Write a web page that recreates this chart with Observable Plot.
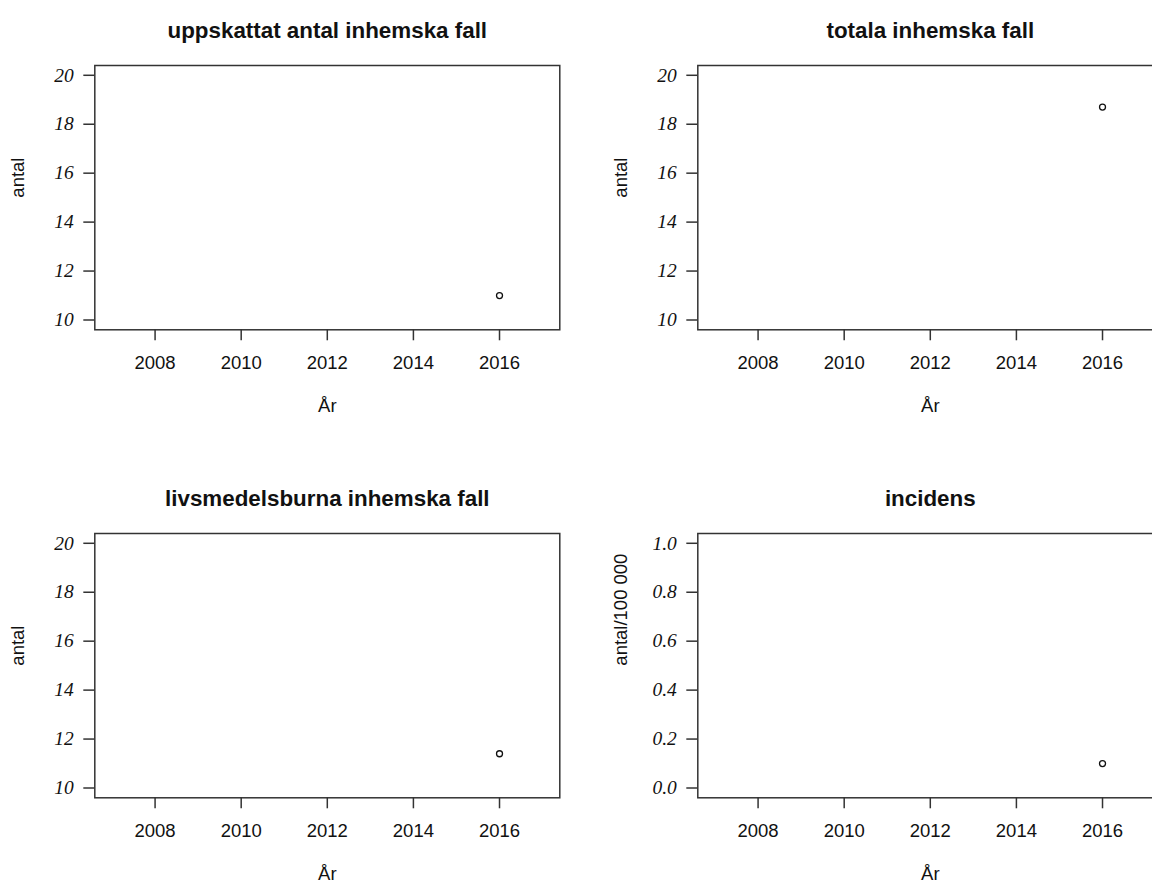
<!DOCTYPE html>
<html>
<head>
<meta charset="utf-8">
<script src="https://cdn.jsdelivr.net/npm/d3@7"></script>
<script src="https://cdn.jsdelivr.net/npm/@observablehq/plot@0.6"></script>
<style>
  html, body { margin: 0; padding: 0; background: white; overflow: hidden; }
  #page { position: relative; width: 1152px; height: 885px; overflow: hidden; background: white; }
  .panel { position: absolute; }
  .panel svg { max-width: none !important; display: block; }
  .panel g[aria-label="y-axis tick label"] { font-style: italic; }
</style>
</head>
<body>
<div id="page"></div>
<script>
// ---- data ----
const years = [2016];
const uppskattat = [11];
const totala = [18.7];
const livsmedelsburna = [11.4];
const incidens = [0.1];

const xTicks = [2008, 2010, 2012, 2014, 2016];
const countTicks = [10, 12, 14, 16, 18, 20];
const incidensTicks = [0.0, 0.2, 0.4, 0.6, 0.8, 1.0];

const titles = ["uppskattat antal inhemska fall", "totala inhemska fall", "livsmedelsburna inhemska fall", "incidens"];
const yLabels = ["antal", "antal", "antal", "antal/100 000"];
const xLabel = "År";

// ---- drawing ----
const sans = "'Liberation Sans', Arial, Helvetica, sans-serif";
const serif = "'Liberation Serif', 'Times New Roman', serif";
const ink = "#111";
const boxColor = "#333";

function panel({title, ylabel, values, yDomain, yTicks, yFormat, marginLeft, height, marginBottom}) {
  const data = years.map((yr, i) => ({year: yr, value: values[i]}));
  const frameW = 465;
  const marginRight = 20;
  return Plot.plot({
    width: marginLeft + frameW + marginRight,
    height,
    marginLeft,
    marginRight,
    marginTop: 65,
    marginBottom,
    style: {background: "white", overflow: "visible"},
    x: {domain: [2006.6, 2017.4], label: null},
    y: {domain: yDomain, label: null},
    marks: [
      Plot.axisX({ticks: xTicks, tickSize: 11, tickPadding: 15, tickFormat: "d",
        fontSize: 18.5, fontFamily: sans, stroke: boxColor, strokeWidth: 1.5, fill: ink, label: null}),
      Plot.axisY({ticks: yTicks, tickSize: 11, tickPadding: 10, tickFormat: yFormat,
        fontSize: 19.5, fontFamily: serif, fontStyle: "italic", stroke: boxColor, strokeWidth: 1.5, fill: ink, label: null}),
      Plot.frame({stroke: boxColor, strokeWidth: 1.5}),
      Plot.dot(data, {x: "year", y: "value", r: 3, stroke: ink, strokeWidth: 1.3, fill: "none"}),
      Plot.text([title], {frameAnchor: "top", dy: -43.5, fontSize: 22.4, fontWeight: "bold", fontFamily: sans, fill: ink}),
      Plot.text([xLabel], {frameAnchor: "bottom", dy: 82, fontSize: 18.5, fontFamily: sans, fill: ink}),
      Plot.text([ylabel], {frameAnchor: "left", dx: -76.5, rotate: -90, fontSize: 18.5, fontFamily: sans, fill: ink})
    ]
  });
}

const page = document.getElementById("page");
function place(el, left, top) {
  const d = document.createElement("div");
  d.className = "panel";
  d.style.left = left + "px";
  d.style.top = top + "px";
  d.appendChild(el);
  page.appendChild(d);
}

const countDomain = [9.6, 20.4];
const incDomain = [-0.04, 1.04];

place(panel({title: titles[0], ylabel: yLabels[0], values: uppskattat, yDomain: countDomain,
  yTicks: countTicks, yFormat: "d", marginLeft: 94.3, height: 440, marginBottom: 110.7}), 0, 0);
place(panel({title: titles[1], ylabel: yLabels[1], values: totala, yDomain: countDomain,
  yTicks: countTicks, yFormat: "d", marginLeft: 117.3, height: 440, marginBottom: 110.7}), 580, 0);
place(panel({title: titles[2], ylabel: yLabels[2], values: livsmedelsburna, yDomain: countDomain,
  yTicks: countTicks, yFormat: "d", marginLeft: 94.3, height: 416.7, marginBottom: 87.4}), 0, 468.3);
place(panel({title: titles[3], ylabel: yLabels[3], values: incidens, yDomain: incDomain,
  yTicks: incidensTicks, yFormat: ".1f", marginLeft: 117.3, height: 416.7, marginBottom: 87.4}), 580, 468.3);
</script>
</body>
</html>
